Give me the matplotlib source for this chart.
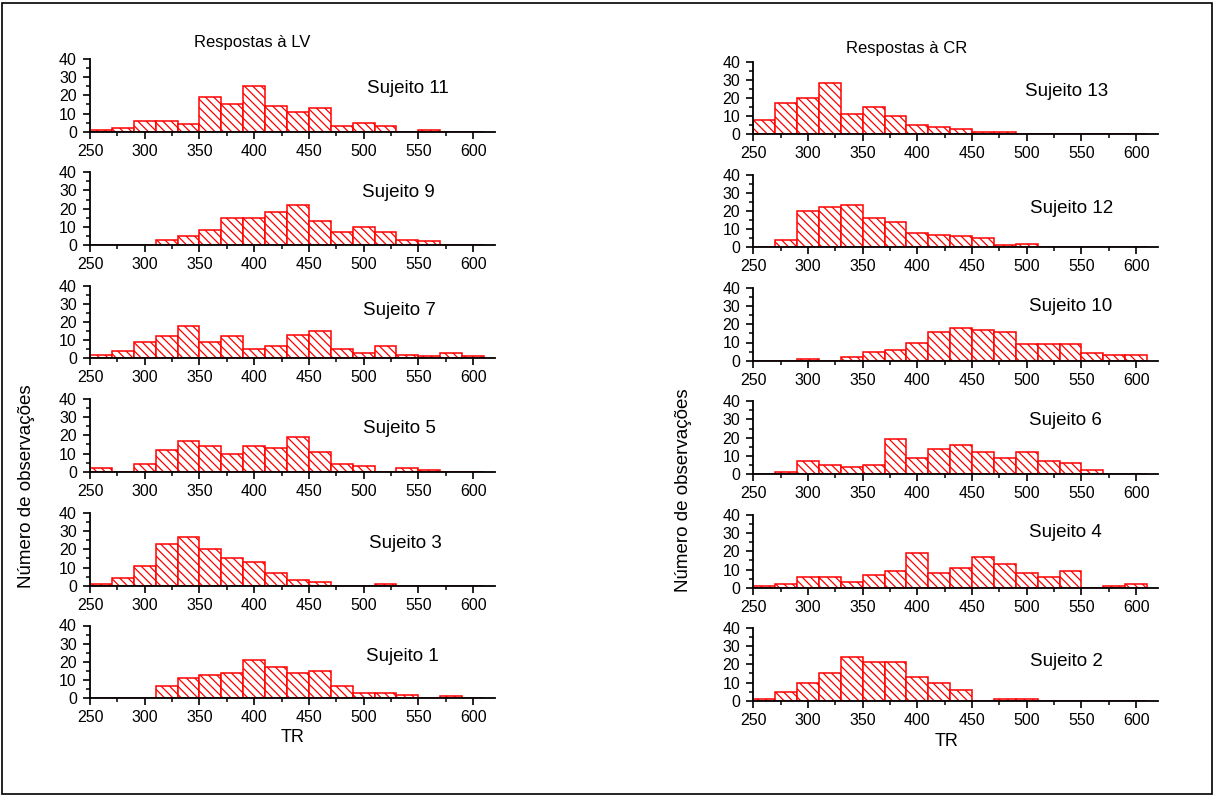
import numpy as np
import matplotlib.pyplot as plt
from matplotlib.patches import Rectangle
from matplotlib.ticker import MultipleLocator

plt.rcParams['font.family'] = ['Liberation Sans', 'DejaVu Sans']

# bin edges (ms), 20 ms wide
edges = np.arange(250, 611, 20)

# Respostas a LV (left column, top to bottom)
s11 = [1, 2, 6, 6, 4, 19, 15, 25, 14, 11, 13, 3, 5, 3, 0, 1, 0, 0]
s9 = [0, 0, 0, 3, 5, 8, 15, 15, 18, 22, 13, 7, 10, 7, 3, 2, 0, 0]
s7 = [2, 4, 9, 12, 18, 9, 12, 5, 7, 13, 15, 5, 3, 7, 2, 1, 3, 1]
s5 = [2, 0, 4, 12, 17, 14, 10, 14, 13, 19, 11, 4, 3, 0, 2, 1, 0, 0]
s3 = [1, 4, 11, 23, 27, 20, 15, 13, 7, 3, 2, 0, 0, 1, 0, 0, 0, 0]
s1 = [0, 0, 0, 7, 11, 13, 14, 21, 17, 14, 15, 7, 3, 3, 2, 0, 1, 0]

# Respostas a CR (right column, top to bottom)
s13 = [8, 17, 20, 28, 11, 15, 10, 5, 4, 3, 1, 1, 0, 0, 0, 0, 0, 0]
s12 = [0, 4, 20, 22, 23, 16, 14, 8, 7, 6, 5, 1, 2, 0, 0, 0, 0, 0]
s10 = [0, 0, 1, 0, 2, 5, 6, 10, 16, 18, 17, 16, 9, 9, 9, 4, 3, 3]
s6 = [0, 1, 7, 5, 4, 5, 19, 9, 14, 16, 12, 9, 12, 7, 6, 2, 0, 0]
s4 = [1, 2, 6, 6, 3, 7, 9, 19, 8, 11, 17, 13, 8, 6, 9, 0, 1, 2]
s2 = [1, 5, 10, 15, 24, 21, 21, 13, 10, 6, 0, 1, 1, 0, 0, 0, 0, 0]

left_names = ["Sujeito 11", "Sujeito 9", "Sujeito 7", "Sujeito 5", "Sujeito 3", "Sujeito 1"]
right_names = ["Sujeito 13", "Sujeito 12", "Sujeito 10", "Sujeito 6", "Sujeito 4", "Sujeito 2"]
left_data = [s11, s9, s7, s5, s3, s1]
right_data = [s13, s12, s10, s6, s4, s2]
left_lab = [(540, 23.5), (532, 29), (533, 26), (533, 24), (538, 23), (535, 23)]
right_lab = [(536, 23.5), (541, 21.5), (540, 30), (535, 29.5), (535, 30.5), (536, 21.5)]

W, H = 1216, 796
fig = plt.figure(figsize=(W / 100, H / 100), dpi=100)
plt.rcParams['hatch.color'] = 'red'
plt.rcParams['hatch.linewidth'] = 0.9

# outer frame
fig.patches.append(Rectangle((2 / W, 2 / H), (W - 6) / W, (H - 5) / H, transform=fig.transFigure,
                             fill=False, edgecolor='black', linewidth=1.2))

left_zero = [131.7, 245, 358.3, 471.7, 585.7, 698.3]
right_zero = [134.3, 247.3, 360.7, 474, 587.7, 700.7]


def panel(x0, x1, y0, data, name, lab):
    ax = fig.add_axes([x0 / W, 1 - y0 / H, (x1 - x0) / W, 72.8 / H])
    ax.bar(edges[:-1], data, width=20, align='edge', facecolor='white',
           edgecolor='red', hatch='\\\\\\\\', linewidth=1.1)
    ax.set_xlim(250, 620)
    ax.set_ylim(0, 40)
    ax.spines['top'].set_visible(False)
    ax.spines['right'].set_visible(False)
    ax.spines['left'].set_linewidth(1.3)
    ax.spines['bottom'].set_linewidth(1.3)
    ax.set_xticks([250, 300, 350, 400, 450, 500, 550, 600])
    ax.xaxis.set_minor_locator(MultipleLocator(25))
    ax.set_yticks([0, 10, 20, 30, 40])
    ax.yaxis.set_minor_locator(MultipleLocator(5))
    ax.tick_params(which='major', length=5, width=1.2, labelsize=11.5)
    ax.tick_params(axis='x', which='major', pad=3.5)
    ax.tick_params(axis='y', which='major', pad=4.5)
    ax.tick_params(which='minor', length=3, width=1.1)
    ax.text(lab[0], lab[1], name, ha='center', va='center', fontsize=13.5)
    return ax


for i in range(6):
    a = panel(90, 495, left_zero[i], left_data[i], left_names[i], left_lab[i])
    b = panel(753.3, 1158, right_zero[i], right_data[i], right_names[i], right_lab[i])

fig.text(252 / W, 1 - 43 / H, "Respostas à LV", ha='center', va='center', fontsize=12)
fig.text(907 / W, 1 - 48 / H, "Respostas à CR", ha='center', va='center', fontsize=12)
fig.text(27 / W, 1 - 486 / H, "Número de observações", ha='center', va='center', rotation=90, fontsize=13.5)
fig.text(683 / W, 1 - 490 / H, "Número de observações", ha='center', va='center', rotation=90, fontsize=13.5)
fig.text(293 / W, 1 - 738 / H, "TR", ha='center', va='center', fontsize=13)
fig.text(947 / W, 1 - 742 / H, "TR", ha='center', va='center', fontsize=13)

fig.savefig("out.png", dpi=100)
